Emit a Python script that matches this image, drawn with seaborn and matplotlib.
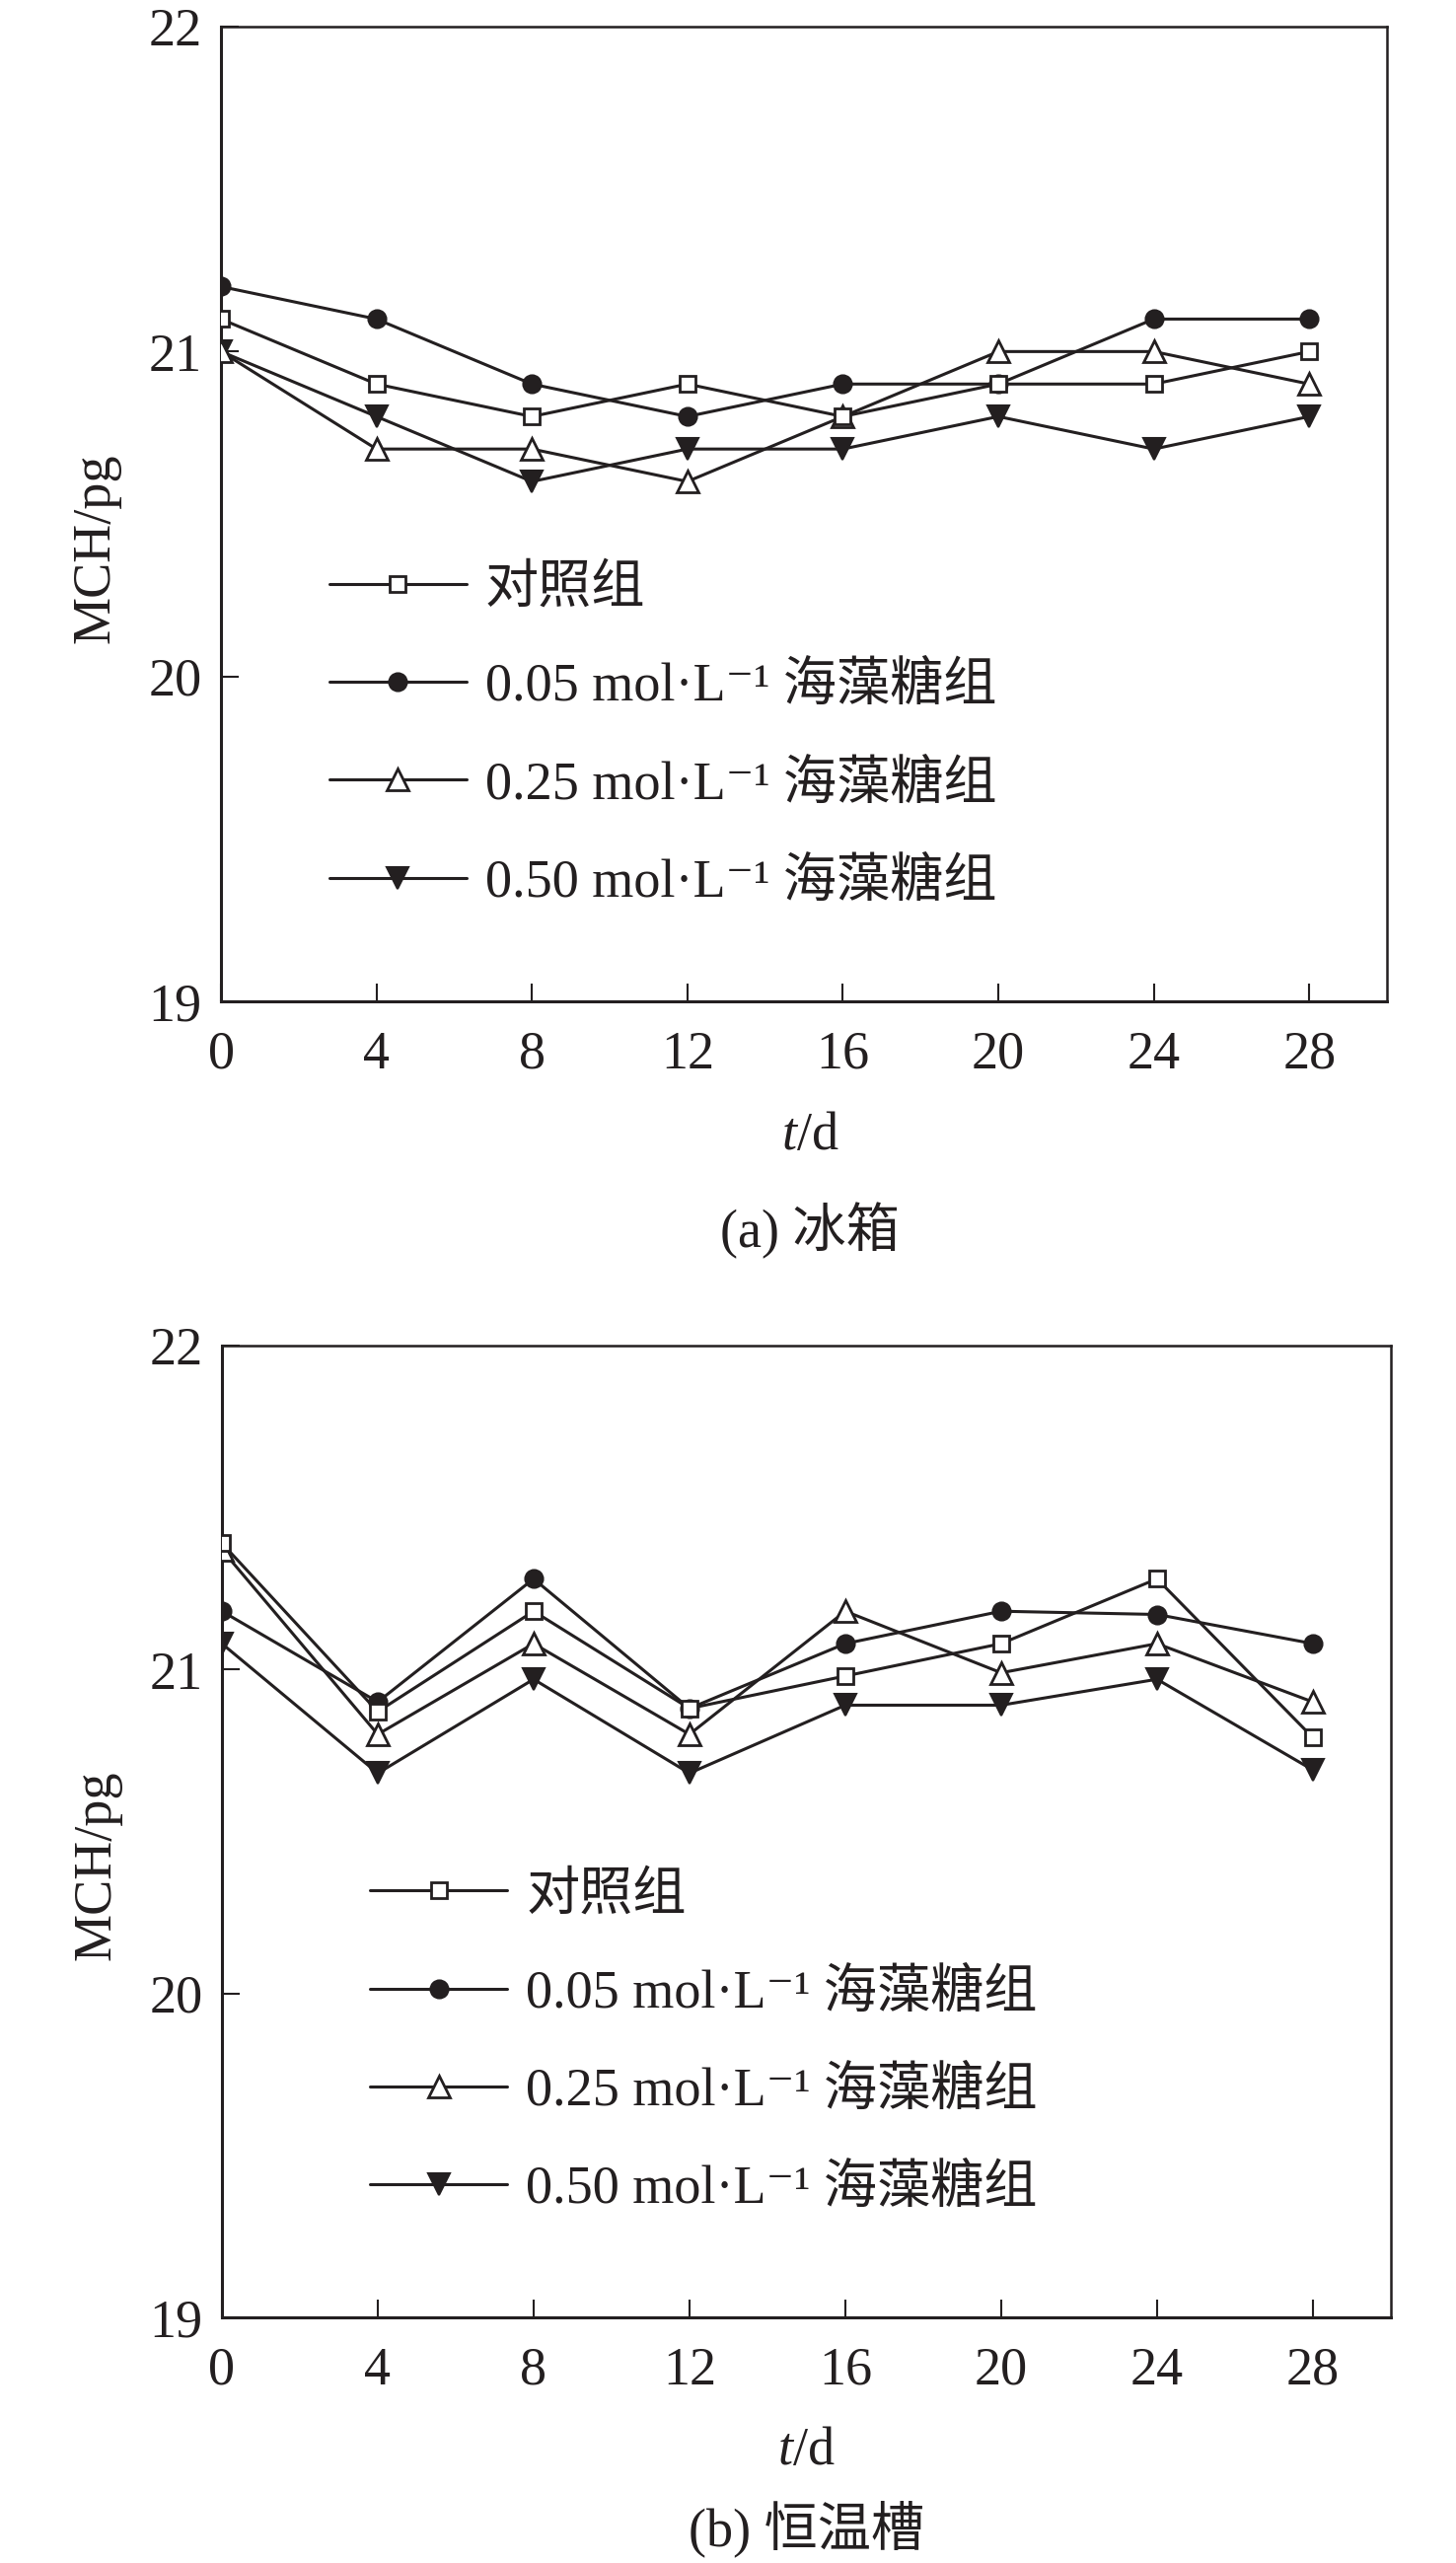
import matplotlib
matplotlib.use("Agg")
import matplotlib.pyplot as plt
import seaborn as sns
import pandas as pd

# ---------------- data ----------------
days = [0, 4, 8, 12, 16, 20, 24, 28]
groups = ["对照组", "0.05 mol·L⁻¹ 海藻糖组", "0.25 mol·L⁻¹ 海藻糖组", "0.50 mol·L⁻¹ 海藻糖组"]

# (a) 冰箱
fridge_control = [21.1, 20.9, 20.8, 20.9, 20.8, 20.9, 20.9, 21.0]
fridge_005 = [21.2, 21.1, 20.9, 20.8, 20.9, 20.9, 21.1, 21.1]
fridge_025 = [21.0, 20.7, 20.7, 20.6, 20.8, 21.0, 21.0, 20.9]
fridge_050 = [21.0, 20.8, 20.6, 20.7, 20.7, 20.8, 20.7, 20.8]

# (b) 恒温槽
bath_control = [21.39, 20.87, 21.18, 20.88, 20.98, 21.08, 21.28, 20.79]
bath_005 = [21.18, 20.90, 21.28, 20.88, 21.08, 21.18, 21.17, 21.08]
bath_025 = [21.37, 20.80, 21.08, 20.80, 21.18, 20.99, 21.08, 20.90]
bath_050 = [21.08, 20.68, 20.97, 20.68, 20.89, 20.89, 20.97, 20.69]

x_ticks = [0, 4, 8, 12, 16, 20, 24, 28]
y_ticks = [19, 20, 21, 22]
y_label = "MCH/pg"
x_label = "$t$/d"
captions = ["(a) 冰箱", "(b) 恒温槽"]

# ---------------- style ----------------
sns.set_style("ticks")
plt.rcParams["font.family"] = ["Liberation Serif", "DejaVu Serif", "Noto Sans CJK SC"]
plt.rcParams["mathtext.fontset"] = "custom"
plt.rcParams["mathtext.rm"] = "Liberation Serif"
plt.rcParams["mathtext.it"] = "Liberation Serif:italic"

INK = "#231f20"
FS = 39

marker_styles = [
    dict(marker="s", ms=12, mfc="white", mec=INK, mew=2.0, zorder=6),
    dict(marker="o", ms=13, mfc=INK, mec=INK, mew=1.5, zorder=3),
    dict(marker="^", ms=16, mfc="white", mec=INK, mew=2.0, zorder=5),
    dict(marker="v", ms=16, mfc=INK, mec=INK, mew=1.5, zorder=4),
]

fig = plt.figure(figsize=(14.76, 25.98), dpi=100)
ax_a = fig.add_axes([0.1518, 0.6093, 0.8008, 0.3803])
ax_b = fig.add_axes([0.1524, 0.0958, 0.8028, 0.3792])

panels = [
    (ax_a, [fridge_control, fridge_005, fridge_025, fridge_050], 0.505, 0.448, -0.235, 0.093, captions[0]),
    (ax_b, [bath_control, bath_005, bath_025, bath_050], 0.5, 0.459, -0.217, 0.127, captions[1]),
]

for ax, series, cx, leg_y, cap_y, leg_x, cap in panels:
    for name, vals, ms in zip(groups, series, marker_styles):
        df = pd.DataFrame({"t": days, "v": vals})
        sns.lineplot(data=df, x="t", y="v", ax=ax, color=INK, lw=2.2,
                     label=name, **ms)
    ax.set_xlim(0, 30)
    ax.set_ylim(19, 22)
    ax.set_xticks(x_ticks)
    ax.set_yticks(y_ticks)
    ax.tick_params(axis="both", direction="in", length=13, width=1.5,
                   labelsize=FS, colors=INK)
    ax.tick_params(axis="x", pad=21)
    ax.tick_params(axis="y", pad=14)
    for side in ["left", "bottom"]:
        ax.spines[side].set_linewidth(2.2)
    for side in ["right", "top"]:
        ax.spines[side].set_linewidth(1.8)
    for sp in ax.spines.values():
        sp.set_color(INK)
        sp.set_visible(True)

    ax.set_ylabel(y_label, fontsize=FS, color=INK)
    ax.yaxis.label.set_va("center")
    ax.yaxis.set_label_coords(-0.107, 0.465)
    ax.set_xlabel(x_label, fontsize=FS, color=INK)
    ax.xaxis.label.set_va("center")
    ax.xaxis.set_label_coords(cx, -0.138)
    ax.text(cx, cap_y, cap, transform=ax.transAxes, ha="center", va="center",
            fontsize=FS, color=INK)

    leg = ax.legend(loc="upper left", bbox_to_anchor=(leg_x, leg_y),
                    frameon=False, fontsize=FS, handlelength=2.56,
                    handletextpad=0.35, labelspacing=0.9, borderpad=0,
                    borderaxespad=0)
    for t in leg.get_texts():
        t.set_color(INK)

fig.savefig("out.png", dpi=100)
